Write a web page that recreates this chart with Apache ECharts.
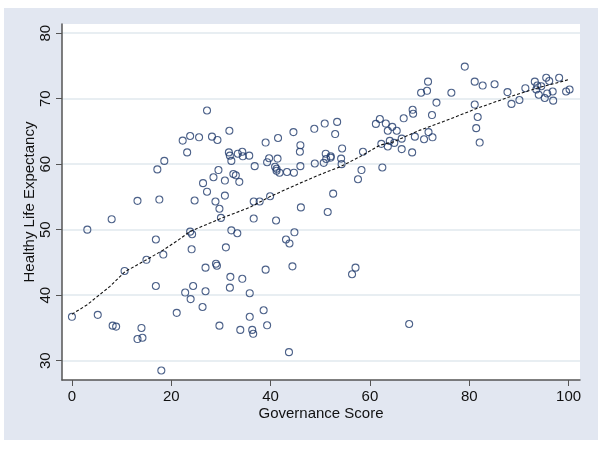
<!DOCTYPE html>
<html>
<head>
<meta charset="utf-8">
<script src="https://cdn.jsdelivr.net/npm/echarts@6/dist/echarts.min.js"></script>
<style>
  html, body { margin: 0; padding: 0; background: #fff; }
  #main { width: 600px; height: 450px; }
</style>
</head>
<body>
<div id="main"></div>
<script>
// governance score (x) and healthy life expectancy (y)
var govScore = [
  0, 3.1, 5.2, 8.0, 8.2, 8.9, 10.6, 13.2, 13.2, 14.0, 14.2, 15.0, 16.9, 16.9, 17.2, 17.6, 18.0, 18.4, 18.6,
  21.1, 22.3, 22.8, 23.2, 23.8, 23.8, 24.2, 23.9, 24.1, 24.4, 24.7, 25.6, 26.3, 26.4, 26.9, 26.9, 27.2, 27.2,
  28.2, 28.5, 28.9, 29.0, 29.2, 29.3, 29.5, 29.7, 29.7, 30.0, 30.8, 30.8, 31.0, 31.6, 31.7, 31.8, 31.9, 31.8,
  32.1, 32.1, 32.5, 33.0, 33.3, 33.4, 33.7, 33.9, 34.3, 34.4, 34.3, 35.7, 35.8, 35.8, 36.3, 36.5, 36.6, 36.6,
  36.8, 37.8, 38.6, 39.0, 39.0, 39.3, 39.3, 39.7, 39.9, 40.9, 41.1, 41.2, 41.2, 41.4, 41.5, 41.8, 43.1, 43.3,
  43.7, 43.8, 44.4, 44.6, 44.7, 44.8, 45.9, 46.0, 46.1, 46.0, 48.8, 48.9, 50.7, 50.9, 51.1, 51.2, 51.5, 52.1,
  52.1, 52.6, 53.0, 53.4, 54.2, 54.3, 54.4, 56.4, 57.1, 57.6, 58.3, 58.6, 61.2, 62.0, 62.3, 62.5, 63.2, 63.6,
  63.6, 64.0, 64.5, 64.9, 65.4, 66.4, 66.4, 66.8, 67.9, 68.6, 68.7, 68.5, 69.05, 70.3, 70.9, 71.5, 71.8, 71.7,
  72.5, 72.6, 73.4, 76.4, 79.1, 81.1, 81.1, 81.4, 81.7, 82.1, 82.7, 85.1, 87.7, 88.5, 90.1, 91.3, 93.2, 93.5,
  93.7, 94.0, 94.5, 95.2, 95.5, 95.7, 96.1, 96.8, 96.9, 98.1, 99.5, 100.2
];
var lifeExp = [
  36.7, 50.0, 37.0, 51.6, 35.35, 35.2, 43.7, 54.4, 33.3, 35.0, 33.5, 45.4, 48.5, 41.4, 59.2, 54.6, 28.5, 46.2, 60.5,
  37.3, 63.6, 40.4, 61.8, 64.3, 49.7, 49.3, 39.4, 47.0, 41.4, 54.45, 64.1, 38.2, 57.1, 44.2, 40.6, 68.2, 55.8,
  64.2, 58.0, 54.3, 44.8, 44.5, 63.7, 59.1, 53.2, 35.35, 51.8, 57.5, 55.2, 47.3, 61.8, 65.1, 61.3, 42.8, 41.15,
  49.9, 60.5, 58.5, 58.3, 49.45, 61.6, 57.3, 34.7, 61.9, 61.2, 42.5, 61.3, 40.3, 36.7, 34.7, 34.1, 54.3, 51.7,
  59.7, 54.3, 37.7, 63.3, 43.9, 35.4, 60.3, 60.9, 55.1, 59.6, 51.4, 59.3, 59.0, 60.85, 64.0, 58.7, 48.5, 58.8,
  31.3, 47.9, 44.4, 64.9, 58.7, 49.6, 61.9, 62.9, 53.4, 59.7, 65.4, 60.1, 60.2, 66.2, 61.6, 60.8, 52.7, 61.2,
  61.0, 55.5, 64.6, 66.45, 60.85, 60.0, 62.4, 43.2, 44.2, 57.7, 59.1, 61.9, 66.15, 66.9, 63.1, 59.5, 66.2, 65.1,
  62.7, 63.55, 65.7, 63.25, 65.1, 63.9, 62.3, 67.0, 35.6, 68.3, 67.7, 61.8, 64.2, 70.9, 63.8, 71.2, 64.9, 72.6,
  67.5, 64.1, 69.4, 70.9, 74.9, 72.6, 69.1, 65.5, 67.2, 63.3, 72.0, 72.2, 71.0, 69.2, 69.8, 71.6, 72.6, 71.4,
  72.0, 70.6, 71.9, 70.1, 73.2, 70.8, 72.7, 71.1, 69.7, 73.2, 71.1, 71.4
];

// smoothed (lowess) curve
var fitX = [0, 3, 7.6, 10.7, 15, 18.4, 21.4, 23.7, 30.1, 35.8, 39.9, 45.9, 49.9, 54, 58, 62, 64.7, 68, 70.1, 74.8, 81.5, 88.2, 93.6, 100];
var fitY = [37.1, 38.5, 41.3, 43.6, 45.4, 46.9, 48.4, 49.7, 51.75, 53.4, 55.05, 57.1, 58.4, 59.6, 61.15, 62.9, 63.4, 64.5, 65.2, 66.5, 68.5, 70.3, 71.6, 72.9];

var xTicks = [0, 20, 40, 60, 80, 100];
var yTicks = [30, 40, 50, 60, 70, 80];

var points = govScore.map(function (x, i) { return [x, lifeExp[i]]; });
var fitLine = fitX.map(function (x, i) { return [x, fitY[i]]; });

var chart = echarts.init(document.getElementById('main'));
var font = 'Liberation Sans, Arial, sans-serif';

var option = {
  backgroundColor: '#fff',
  animation: false,
  graphic: [{
    type: 'rect', z: -10, silent: true,
    shape: { x: 4, y: 8, width: 594, height: 432 },
    style: { fill: '#E2E7F1' }
  }],
  grid: {
    left: 62, right: 20, top: 24, bottom: 70,
    show: true, backgroundColor: '#fff', borderWidth: 0
  },
  xAxis: {
    type: 'value',
    min: -2, max: 102.3,
    name: 'Governance Score',
    nameLocation: 'middle',
    nameGap: 26,
    nameMoveOverlap: false,
    nameTextStyle: { fontFamily: font, fontSize: 15, color: '#111' },
    axisLine: { show: true, onZero: false, lineStyle: { color: '#555', width: 1.5 } },
    axisTick: { show: true, length: 6, customValues: xTicks, lineStyle: { color: '#555' } },
    axisLabel: { customValues: xTicks, margin: 9, fontFamily: font, fontSize: 15, color: '#111' },
    splitLine: { show: false }
  },
  yAxis: {
    type: 'value',
    min: 27.05, max: 81.4,
    name: 'Healthy Life Expectancy',
    nameLocation: 'middle',
    nameGap: 25,
    nameMoveOverlap: false,
    nameTextStyle: { fontFamily: font, fontSize: 15, color: '#111' },
    axisLine: { show: true, onZero: false, lineStyle: { color: '#555', width: 1.5 } },
    axisTick: { show: true, length: 6, customValues: yTicks, lineStyle: { color: '#555' } },
    axisLabel: { customValues: yTicks, rotate: 90, margin: 9, fontFamily: font, fontSize: 15, color: '#111' },
    splitLine: { show: true, lineStyle: { color: '#E1E8EE', width: 1.5 } }
  },
  series: [
    {
      type: 'scatter',
      data: points,
      symbol: 'circle',
      symbolSize: 7,
      itemStyle: { color: 'rgba(0,0,0,0)', borderColor: '#1F3A6B', borderWidth: 1.1 }
    },
    {
      type: 'line',
      data: fitLine,
      showSymbol: false,
      smooth: false,
      lineStyle: { color: '#111', width: 1.1, type: [3, 2] }
    }
  ]
};
chart.setOption(option);
</script>
</body>
</html>
